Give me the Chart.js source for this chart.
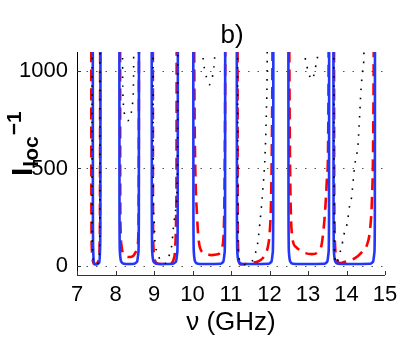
<!DOCTYPE html>
<html lang="en">
<head>
<meta charset="UTF-8">
<title>b)</title>
<script src="https://cdn.jsdelivr.net/npm/chart.js@4.4.1/dist/chart.umd.min.js"></script>
<style>
  body { margin: 0; background: #fff; }
</style>
</head>
<body>
<canvas id="chart" width="415" height="356"></canvas>
<script>
// tick values
const xTickValues = [7, 8, 9, 10, 11, 12, 13, 14, 15];
const yTickValues = [0, 500, 1000];

// blue solid curve (nu in GHz, I_loc^-1), null = break between wells
const blueNu = [
  7.41, 7.413, 7.42, 7.44, 7.51, 7.58, 7.6, 7.607, 7.61, null,
  8.10, 8.104, 8.115, 8.15, 8.22, 8.36, 8.49, 8.56, 8.595, 8.606, 8.61, null,
  8.94, 8.944, 8.955, 8.99, 9.06, 9.28, 9.5, 9.57, 9.605, 9.616, 9.62, null,
  10.02, 10.024, 10.035, 10.07, 10.14, 10.435, 10.73, 10.8, 10.835, 10.846, 10.85, null,
  11.15, 11.154, 11.165, 11.2, 11.27, 11.625, 11.98, 12.05, 12.085, 12.096, 12.10, null,
  12.49, 12.494, 12.505, 12.54, 12.61, 13.02, 13.43, 13.5, 13.535, 13.546, 13.55, null,
  13.66, 13.664, 13.675, 13.71, 13.78, 14.2, 14.62, 14.69, 14.725, 14.736, 14.74
];
const blueVal = [
  1300, 300, 90, 18, 8, 18, 90, 300, 1300, null,
  1300, 250, 70, 22, 12, 10, 12, 22, 70, 250, 1300, null,
  1300, 250, 70, 22, 12, 10, 12, 22, 70, 250, 1300, null,
  1300, 250, 70, 22, 12, 10, 12, 22, 70, 250, 1300, null,
  1300, 250, 70, 22, 12, 10, 12, 22, 70, 250, 1300, null,
  1300, 250, 70, 22, 12, 10, 12, 22, 70, 250, 1300, null,
  1300, 250, 70, 22, 12, 10, 12, 22, 70, 250, 1300
];

// red dashed curve
const redNu = [
  7.37, 7.374, 7.385, 7.42, 7.47, 7.53, 7.57, 7.59, 7.598, 7.602, null,
  8.12, 8.122, 8.13, 8.16, 8.22, 8.3, 8.38, 8.45, 8.52, 8.57, 8.595, 8.605, 8.61, null,
  8.97, 8.974, 8.985, 9.02, 9.1, 9.3, 9.45, 9.51, 9.55, 9.575, 9.585, 9.59, null,
  10.04, 10.05, 10.065, 10.12, 10.19, 10.32, 10.5, 10.66, 10.77, 10.82, 10.84, 10.848, 10.852, null,
  11.17, 11.173, 11.18, 11.2, 11.24, 11.35, 11.49, 11.68, 11.83, 11.91, 11.96, 12.01, 12.04, 12.06, 12.075, 12.08, null,
  12.51, 12.52, 12.53, 12.58, 12.69, 12.87, 13.1, 13.26, 13.36, 13.44, 13.49, 13.52, 13.535, 13.54, null,
  13.675, 13.68, 13.69, 13.7, 13.73, 13.83, 14.01, 14.22, 14.4, 14.53, 14.61, 14.66, 14.69, 14.705, 14.71
];
const redVal = [
  1300, 300, 90, 20, 8, 15, 40, 120, 400, 1300, null,
  1300, 500, 200, 100, 60, 47, 46, 50, 70, 100, 180, 500, 1300, null,
  1300, 300, 100, 30, 12, 10, 14, 35, 90, 250, 500, 1300, null,
  1300, 900, 590, 250, 97, 66, 56, 60, 97, 235, 590, 900, 1300, null,
  1300, 400, 130, 35, 8, 9, 15, 22, 41, 70, 100, 184, 330, 590, 1000, 1300, null,
  1300, 900, 590, 168, 97, 71, 61, 71, 117, 270, 440, 590, 1000, 1300, null,
  1300, 500, 200, 120, 40, 15, 25, 40, 71, 107, 184, 337, 590, 1000, 1300
];

// black dotted curve
const blackNu = [
  7.39, 7.394, 7.405, 7.44, 7.5, 7.55, 7.58, 7.593, 7.6, null,
  8.18, 8.185, 8.2, 8.25, 8.32, 8.39, 8.45, 8.47, 8.475, null,
  8.975, 8.98, 9.0, 9.03, 9.08, 9.15, 9.23, 9.3, 9.36, 9.42, 9.47, 9.49, 9.55, 9.6, 9.615, 9.62, null,
  10.27, 10.275, 10.3, 10.36, 10.44, 10.51, 10.555, 10.575, 10.58, null,
  11.17, 11.175, 11.18, 11.2, 11.24, 11.35, 11.45, 11.55, 11.62, 11.68, 11.75, 11.83, 11.88, 11.92, 11.94, 11.945, null,
  12.92, 12.925, 12.95, 13.0, 13.1, 13.18, 13.22, 13.25, 13.255, null,
  13.67, 13.675, 13.685, 13.7, 13.74, 13.78, 13.83, 13.88, 13.91, 13.99, 14.04, 14.06, 14.12, 14.15, 14.17, 14.22, 14.27, 14.3, 14.38, 14.4, 14.43, 14.45, 14.46
];
const blackVal = [
  1300, 300, 80, 20, 8, 15, 60, 250, 1300, null,
  1300, 1000, 850, 770, 745, 770, 850, 1000, 1300, null,
  1300, 400, 250, 100, 80, 35, 15, 14, 30, 75, 117, 168, 270, 400, 700, 1300, null,
  1300, 1070, 1020, 970, 930, 960, 1020, 1070, 1300, null,
  1300, 600, 200, 60, 15, 8, 12, 25, 60, 100, 220, 400, 550, 800, 1050, 1300, null,
  1300, 1090, 1040, 1000, 955, 1000, 1040, 1090, 1300, null,
  1300, 500, 150, 40, 12, 30, 70, 97, 143, 194, 245, 286, 337, 388, 429, 525, 577, 628, 913, 964, 1015, 1066, 1300
];

const FONT = "'Liberation Sans', Arial, Helvetica, sans-serif";

function pts(xs, ys) {
  return xs.map((x, i) => ({ x: x, y: ys[i] }));
}

const decor = {
  id: 'decor',
  beforeDatasetsDraw(chart) {
    const { ctx, chartArea: a, scales: { y } } = chart;
    ctx.save();
    ctx.strokeStyle = '#555';
    ctx.lineWidth = 1;
    ctx.setLineDash([1.5, 8]);
    yTickValues.forEach(v => {
      const py = Math.round(y.getPixelForValue(v)) + 0.5;
      ctx.beginPath();
      ctx.moveTo(a.left, py);
      ctx.lineTo(a.right, py);
      ctx.stroke();
    });
    ctx.restore();
  },
  afterDraw(chart) {
    const { ctx, chartArea: a, scales: { x, y } } = chart;
    ctx.save();
    // axes
    ctx.lineWidth = 1;
    ctx.strokeStyle = '#000';
    ctx.beginPath();
    ctx.moveTo(a.left + 0.5, a.top);
    ctx.lineTo(a.left + 0.5, a.bottom);
    ctx.stroke();
    ctx.strokeStyle = '#333';
    ctx.beginPath();
    ctx.moveTo(a.left, a.bottom + 0.5);
    ctx.lineTo(a.right, a.bottom + 0.5);
    ctx.stroke();
    // inward tick marks
    xTickValues.forEach(v => {
      const px = Math.round(x.getPixelForValue(v)) + 0.5;
      ctx.beginPath();
      ctx.moveTo(px, a.bottom);
      ctx.lineTo(px, a.bottom - 4);
      ctx.stroke();
    });
    yTickValues.forEach(v => {
      const py = Math.round(y.getPixelForValue(v)) + 0.5;
      ctx.beginPath();
      ctx.moveTo(a.left, py);
      ctx.lineTo(a.left + 4, py);
      ctx.stroke();
    });
    // title
    ctx.fillStyle = '#000';
    ctx.font = '26px ' + FONT;
    ctx.textAlign = 'center';
    ctx.textBaseline = 'alphabetic';
    ctx.fillText('b)', 232, 43);
    // x label
    ctx.fillText('\u03bd (GHz)', (a.left + a.right) / 2, 330);
    // y label: I_loc^-1 (bold, rotated, sub then sup)
    ctx.translate(32, 176);
    ctx.rotate(-Math.PI / 2);
    ctx.textAlign = 'left';
    ctx.font = 'bold 30px ' + FONT;
    ctx.fillText('I', 0, 0);
    let w = ctx.measureText('I').width + 1;
    ctx.font = 'bold 21px ' + FONT;
    ctx.fillText('loc', w, 6);
    w += ctx.measureText('loc').width + 1;
    ctx.fillText('\u22121', w, -11);
    ctx.restore();
  }
};

new Chart(document.getElementById('chart'), {
  type: 'line',
  data: {
    datasets: [
      {
        label: 'dotted',
        data: pts(blackNu, blackVal),
        borderColor: '#000',
        borderWidth: 1.6,
        borderDash: [1.6, 7.5]
      },
      {
        label: 'solid',
        data: pts(blueNu, blueVal),
        borderColor: 'rgb(35,55,250)',
        borderWidth: 2.6
      },
      {
        label: 'dashed',
        data: pts(redNu, redVal),
        borderColor: 'rgb(255,0,0)',
        borderWidth: 2.6,
        borderDash: [12, 7]
      }
    ]
  },
  options: {
    responsive: false,
    animation: false,
    events: [],
    layout: { padding: { top: 52, right: 30, left: 0, bottom: 0 } },
    elements: {
      point: { radius: 0 },
      line: { cubicInterpolationMode: 'monotone', fill: false }
    },
    spanGaps: false,
    plugins: { legend: { display: false }, tooltip: { enabled: false }, title: { display: false } },
    scales: {
      x: {
        type: 'linear',
        min: 7,
        max: 15,
        afterBuildTicks: s => { s.ticks = xTickValues.map(v => ({ value: v })); },
        afterFit: s => { s.height = 81; },
        grid: { display: false, drawTicks: false },
        border: { display: false },
        ticks: { color: '#000', font: { family: FONT, size: 22 }, padding: 7, maxRotation: 0, autoSkip: false, callback: v => String(v) }
      },
      y: {
        type: 'linear',
        min: -46,
        max: 1097,
        afterBuildTicks: s => { s.ticks = yTickValues.map(v => ({ value: v })); },
        afterFit: s => { s.width = 77; },
        grid: { display: false, drawTicks: false },
        border: { display: false },
        ticks: { color: '#000', font: { family: FONT, size: 22 }, padding: 9, callback: v => String(v) }
      }
    }
  },
  plugins: [decor]
});
</script>
</body>
</html>
